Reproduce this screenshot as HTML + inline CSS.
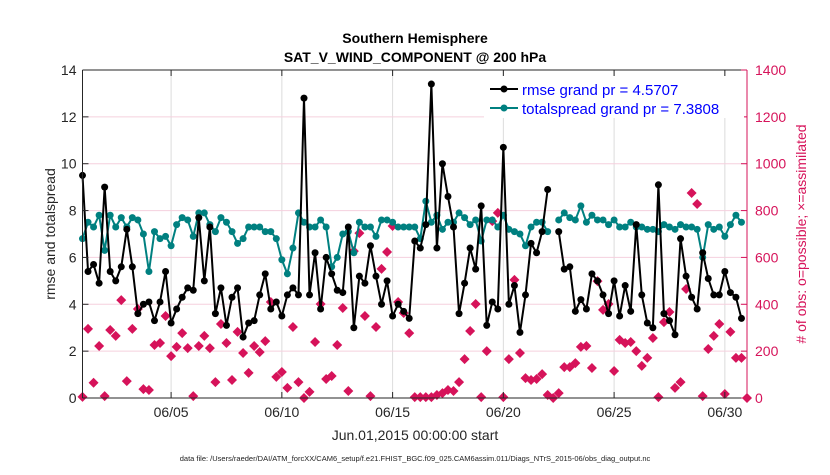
<!DOCTYPE html>
<html><head><meta charset="utf-8"><style>
body{margin:0;background:#fff;}
svg text{font-family:"Liberation Sans",Arial,sans-serif;}
</style></head><body>
<svg id="chart" width="830" height="470" viewBox="0 0 830 470" xmlns="http://www.w3.org/2000/svg">
<rect width="830" height="470" fill="#fff"/>
<g id="grid"></g>
<g id="obs"></g>
<g id="spread"></g>
<g id="rmse"></g>
<g id="axes"></g>
<text x="415" y="43" text-anchor="middle" font-size="14" font-weight="bold">Southern Hemisphere</text>
<text x="415" y="62" text-anchor="middle" font-size="14" font-weight="bold">SAT_V_WIND_COMPONENT @ 200 hPa</text>
<text x="415" y="440" text-anchor="middle" font-size="14" fill="#262626">Jun.01,2015 00:00:00 start</text>
<text transform="translate(55,234) rotate(-90)" text-anchor="middle" font-size="14" fill="#262626">rmse and totalspread</text>
<text transform="translate(806,234) rotate(-90)" text-anchor="middle" font-size="14" fill="#d6135a"># of obs: o=possible; ×=assimilated</text>
<text x="415" y="461" text-anchor="middle" font-size="7.5" fill="#222">data file: /Users/raeder/DAI/ATM_forcXX/CAM6_setup/f.e21.FHIST_BGC.f09_025.CAM6assim.011/Diags_NTrS_2015-06/obs_diag_output.nc</text>
<g>
<rect x="484" y="76" width="260" height="42" fill="#fff"/>
<g>
<line x1="490" y1="89" x2="518" y2="89" stroke="#000" stroke-width="2"/><circle cx="504" cy="89" r="3.5" fill="#000"/>
<text x="522" y="95" font-size="15" fill="#0000ff">rmse grand pr = 4.5707</text></g>
<g>
<line x1="490" y1="108" x2="518" y2="108" stroke="#008080" stroke-width="2"/><circle cx="504" cy="108" r="3.5" fill="#008080"/>
<text x="522" y="114" font-size="15" fill="#0000ff">totalspread grand pr = 7.3808</text></g>
</g>
</svg>
<script>
const rmseValues=[9.5,5.4,5.7,4.9,9.0,5.4,5.0,5.6,7.2,5.6,
3.6,4.0,4.1,3.3,4.1,5.4,3.2,3.8,4.3,4.7,
4.6,7.7,5.0,7.3,3.6,4.7,3.1,4.3,4.7,2.6,
3.2,3.3,4.4,5.3,3.8,4.1,3.5,4.4,4.7,4.4,
12.8,4.4,6.2,3.8,6.0,5.3,4.6,4.5,7.3,3.0,
5.2,4.9,6.5,5.2,4.0,5.0,3.5,4.0,3.7,3.4,
6.7,6.4,7.4,13.4,6.4,10.0,8.6,7.3,3.6,4.9,
6.4,5.5,8.2,3.1,4.1,3.8,10.7,4.0,4.8,2.8,
4.4,6.6,6.2,7.1,8.9,null,7.1,5.5,5.6,3.7,
4.2,3.8,5.3,5.0,4.4,3.6,5.0,3.5,4.8,3.7,
7.4,4.4,3.2,3.0,9.1,3.6,3.3,2.7,6.8,5.2,
4.3,3.8,6.2,5.1,4.4,4.4,5.4,4.5,4.3,3.4];
const spreadValues=[6.8,7.5,7.3,7.8,6.3,7.8,7.3,7.7,7.3,7.7,
7.6,7.0,5.4,7.1,6.8,6.9,6.5,7.4,7.7,7.6,
6.9,7.9,7.9,7.4,7.1,7.7,7.5,7.1,6.6,6.8,
7.3,7.3,7.3,7.1,7.1,6.8,5.9,5.3,6.4,7.9,
7.5,7.3,7.3,7.6,7.3,5.6,6.0,7.0,7.1,6.2,
7.5,7.3,7.3,6.9,7.6,7.6,7.5,7.3,7.3,7.3,
7.3,6.8,8.4,7.5,7.8,7.2,7.5,7.5,7.9,7.7,
7.4,7.6,6.7,7.6,7.6,7.3,7.8,7.2,7.1,7.0,
6.5,7.3,7.5,7.5,7.1,null,7.6,7.9,7.7,7.6,
8.2,7.5,7.8,7.6,7.6,7.4,7.6,7.3,7.3,7.5,
7.3,7.3,7.2,7.2,7.1,7.4,7.3,7.2,7.4,7.3,
7.3,7.2,6.0,7.4,7.2,7.3,6.9,7.4,7.8,7.5];
const obsValues=[5,295,65,222,8,290,265,418,72,295,
380,38,34,226,235,350,179,218,277,213,
8,222,265,213,68,316,235,77,282,192,
107,222,196,243,410,90,111,43,303,68,
0,26,239,401,81,94,226,384,30,627,
704,350,8,303,551,623,734,410,363,277,
4,4,4,4,13,21,34,30,68,166,
286,401,4,200,755,790,4,166,504,192,
85,77,81,102,13,0,21,132,132,149,
218,222,128,499,376,401,115,248,235,239,
200,137,171,256,4,324,367,43,68,465,
875,828,8,209,265,316,17,282,171,171,0];
const xTickDays=[4,9,14,19,24,29];
const xTickLabels=["06/05","06/10","06/15","06/20","06/25","06/30"];
const leftTicks=[0,2,4,6,8,10,12,14];
const rightTicks=[0,200,400,600,800,1000,1200,1400];

const NS="http://www.w3.org/2000/svg";
const X0=82.5,X1=747,Y0=398,Y1=70,DMAX=30,LMAX=14,RMAX=1400;
const PINK="#d6135a";
function xs(d){return X0+(d/DMAX)*(X1-X0);}
function yl(v){return Y0-(v/LMAX)*(Y0-Y1);}
function yr(v){return Y0-(v/RMAX)*(Y0-Y1);}
function mk(tag,attrs,parent){const e=document.createElementNS(NS,tag);for(const k in attrs)e.setAttribute(k,attrs[k]);parent.appendChild(e);return e;}

const grid=document.getElementById('grid');
xTickDays.forEach(d=>{
 const l=mk('line',{x1:xs(d),x2:xs(d),y1:Y1,y2:Y0,stroke:'#dcdcdc','stroke-width':1},grid);
 
 
});
rightTicks.forEach(v=>{
 if(v===0||v===RMAX)return;
 const l=mk('line',{x1:X0,x2:X1,y1:yr(v),y2:yr(v),stroke:'#f5d0de','stroke-width':1},grid);
 
 
});

const obsG=document.getElementById('obs');
obsValues.forEach((v,i)=>{
 if(v===null)return;
 const x=xs(i/4),y=yr(v),s=5;
 const p=mk('polygon',{points:`${x},${y-s} ${x+s},${y} ${x},${y+s} ${x-s},${y}`,fill:PINK},obsG);
 
 
});

function drawSeries(gid,vals,color){
 const g=document.getElementById(gid);
 let seg=[];const segs=[];
 vals.forEach((v,i)=>{if(v===null){if(seg.length)segs.push(seg);seg=[];}else seg.push([xs(i/4),yl(v)]);});
 if(seg.length)segs.push(seg);
 segs.forEach(s=>{
  const pl=mk('polyline',{points:s.map(p=>p.join(',')).join(' '),fill:'none',stroke:color,'stroke-width':2,'stroke-linejoin':'round'},g);
  
  
  s.forEach(p=>{
   const c=mk('circle',{cx:p[0],cy:p[1],r:3.5,fill:color},g);
   
   
  });
 });
}
drawSeries('spread',spreadValues,'#008080');
drawSeries('rmse',rmseValues,'#000');

const ax=document.getElementById('axes');
mk('line',{x1:X0,x2:X1,y1:Y1,y2:Y1,stroke:'#262626','stroke-width':1},ax);
mk('line',{x1:X0,x2:X1,y1:Y0,y2:Y0,stroke:'#262626','stroke-width':1},ax);
mk('line',{x1:X0,x2:X0,y1:Y1,y2:Y0,stroke:'#262626','stroke-width':1},ax);
mk('line',{x1:X1,x2:X1,y1:Y1,y2:Y0,stroke:PINK,'stroke-width':1},ax);
xTickDays.forEach((d,i)=>{
 mk('line',{x1:xs(d),x2:xs(d),y1:Y0,y2:Y0-6,stroke:'#262626'},ax);
 mk('line',{x1:xs(d),x2:xs(d),y1:Y1,y2:Y1+6,stroke:'#262626'},ax);
 const t=mk('text',{x:xs(d),y:Y0+19,'text-anchor':'middle','font-size':14,fill:'#262626'},ax);
 t.textContent=xTickLabels[i];
 
 
});
leftTicks.forEach(v=>{
 mk('line',{x1:X0,x2:X0+6,y1:yl(v),y2:yl(v),stroke:'#262626'},ax);
 const t=mk('text',{x:X0-6,y:yl(v)+5,'text-anchor':'end','font-size':14,fill:'#262626'},ax);
 t.textContent=v;
 
 
});
rightTicks.forEach(v=>{
 mk('line',{x1:X1,x2:X1-6,y1:yr(v),y2:yr(v),stroke:PINK},ax);
 const t=mk('text',{x:X1+8,y:yr(v)+5,'text-anchor':'start','font-size':14,fill:PINK},ax);
 t.textContent=v;
 
 
});
</script>
</body></html>
